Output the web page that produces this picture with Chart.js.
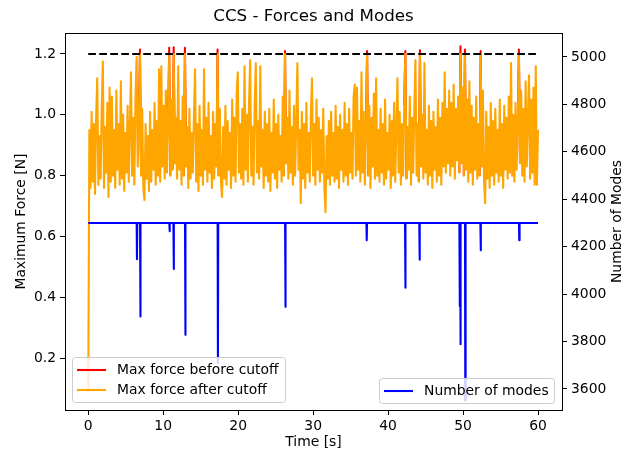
<!DOCTYPE html>
<html>
<head>
<meta charset="utf-8">
<script src="https://cdn.jsdelivr.net/npm/chart.js@4/dist/chart.umd.min.js"></script>
<style>
  html, body { margin: 0; padding: 0; background: #fff; }
  canvas { display: block; }
</style>
</head>
<body>
<canvas id="ccs-chart" width="624" height="452"></canvas>
<script>
// sampling step of the force record [s]
const dt = 0.15;

// max force after cutoff [N], one value per dt from t = 0 to 60 s
const forceAfter = [
  0.09, 0.95, 0.76, 1.01, 0.78, 0.97, 0.74, 0.99, 1.12, 0.77, 0.93, 0.79, 1.02, 1.175, 0.76, 0.96, 0.81, 1.04, 0.73, 1.09,
  0.78, 1.06, 0.80, 0.95, 0.76, 1.08, 0.82, 0.97, 0.77, 1.11, 0.79, 1.00, 0.75, 0.94, 0.81, 1.03, 0.78, 0.96, 1.14, 0.80,
  0.99, 0.77, 1.05, 1.19, 0.83, 0.96, 1.20, 0.80, 1.02, 0.76, 0.72, 0.97, 0.79, 0.93, 0.75, 1.01, 0.78, 0.95, 0.82, 1.04,
  0.77, 0.98, 0.80, 1.15, 0.78, 1.16, 0.83, 1.03, 0.79, 1.08, 0.81, 0.97, 1.20, 0.80, 1.05, 0.82, 1.20, 0.84, 0.99, 0.79,
  1.16, 0.82, 0.98, 0.77, 1.06, 0.80, 1.20, 0.83, 0.96, 0.76, 1.02, 0.79, 0.94, 0.81, 1.00, 1.15, 0.78, 0.97, 0.75, 1.03,
  0.80, 0.95, 0.77, 1.15, 0.82, 0.99, 0.78, 1.04, 0.81, 0.93, 0.76, 1.01, 0.79, 0.97, 0.83, 1.20, 0.80, 1.02, 0.78, 0.73,
  0.96, 0.79, 1.03, 0.77, 0.98, 0.82, 0.94, 0.76, 1.05, 0.80, 0.99, 0.78, 1.07, 1.14, 0.81, 0.97, 0.79, 1.02, 0.77, 1.16,
  0.82, 1.00, 0.78, 1.04, 1.18, 0.80, 0.96, 0.77, 1.03, 1.17, 0.81, 0.98, 0.79, 1.16, 0.83, 0.95, 0.76, 1.01, 0.80, 0.97,
  0.78, 1.02, 0.75, 0.94, 0.81, 1.05, 0.79, 0.97, 0.76, 1.00, 0.82, 0.93, 0.78, 1.06, 0.80, 1.20, 0.84, 0.99, 0.79, 1.08,
  0.81, 0.96, 0.77, 1.03, 0.80, 0.98, 1.17, 0.82, 0.95, 0.71, 1.01, 0.79, 0.97, 0.76, 1.04, 0.81, 0.94, 0.78, 1.00, 1.12,
  0.80, 0.97, 0.77, 1.05, 0.82, 0.99, 0.78, 0.95, 0.81, 1.02, 0.76, 0.68, 0.93, 0.79, 0.98, 0.77, 1.01, 0.80, 0.94, 0.78,
  1.03, 0.79, 0.96, 0.76, 1.00, 0.82, 0.95, 0.78, 1.04, 0.80, 0.97, 0.77, 1.02, 0.81, 0.94, 0.79, 1.06, 1.10, 0.80, 1.09,
  0.82, 0.98, 0.78, 1.14, 0.81, 1.01, 0.77, 0.96, 1.20, 0.80, 1.03, 0.76, 0.99, 0.83, 1.07, 0.79, 1.12, 0.80, 0.95, 0.78,
  1.02, 0.81, 0.97, 0.77, 1.05, 0.79, 0.94, 0.82, 1.00, 0.76, 0.98, 0.80, 1.04, 0.78, 0.96, 1.12, 0.81, 1.01, 0.77, 0.97,
  0.80, 1.03, 1.20, 0.79, 0.96, 0.82, 1.06, 0.77, 0.99, 0.81, 1.02, 1.18, 0.80, 0.97, 0.78, 1.20, 0.83, 1.00, 0.79, 1.17,
  0.81, 0.95, 0.77, 1.03, 0.80, 0.98, 0.76, 1.01, 0.82, 0.96, 0.78, 1.05, 0.80, 0.99, 0.77, 1.04, 0.83, 1.14, 0.81, 1.02,
  0.84, 1.08, 0.80, 1.04, 0.83, 1.10, 0.79, 1.02, 0.85, 1.06, 0.81, 1.20, 0.84, 1.09, 0.80, 1.20, 0.82, 1.05, 0.78, 1.11,
  0.81, 1.03, 0.77, 0.99, 0.82, 1.06, 0.79, 0.97, 0.80, 1.20, 0.83, 1.08, 0.78, 0.71, 1.01, 0.79, 0.96, 0.76, 1.04, 0.80,
  0.98, 0.77, 1.02, 0.81, 0.95, 0.78, 1.05, 0.80, 0.97, 0.76, 1.03, 0.82, 0.99, 0.79, 1.06, 0.81, 1.17, 0.80, 1.00, 0.78,
  1.04, 0.82, 0.97, 1.20, 0.84, 1.08, 0.80, 1.02, 0.78, 1.11, 0.83, 0.99, 1.13, 0.79, 1.05, 0.81, 1.09, 0.77, 1.16, 0.77,
  0.95
];

// peaks that were above the cutoff before it was applied
const peakTimes  = [6.9, 10.8, 11.4, 12.9, 17.25, 26.25, 37.2, 42.3, 44.25, 49.65, 50.25, 52.35, 57.45];
const peakForces = [1.215, 1.22, 1.222, 1.22, 1.215, 1.21, 1.21, 1.21, 1.212, 1.225, 1.215, 1.21, 1.215];

const cutoff = 1.2;

// number of modes: constant level with short drops
const modesBase = 4300;
const dipTimes = [6.5, 6.95, 10.85, 11.4, 12.95, 17.3, 26.3, 37.15, 42.3, 44.2, 49.55, 49.65, 50.3, 52.35, 57.5];
const dipModes = [4147, 3905, 4265, 4106, 3828, 3708, 3946, 4227, 4027, 4145, 3949, 3788, 3552, 4185, 4227];

const timeTicks = [0, 10, 20, 30, 40, 50, 60];
const forceTicks = [0.2, 0.4, 0.6, 0.8, 1.0, 1.2];
const modeTicks = [3600, 3800, 4000, 4200, 4400, 4600, 4800, 5000];

const FONT = "'DejaVu Sans', 'Liberation Sans', sans-serif";
const LW = 2.08; // 1.5 pt at 100 dpi

const time = forceAfter.map((_, i) => +(i * dt).toFixed(2));

// before-cutoff curve: only the parts around the clipped peaks differ, the rest is hidden under the orange one
const forceBefore = forceAfter.map(() => null);
peakTimes.forEach((t, k) => {
  const i = Math.round(t / dt);
  forceBefore[i - 1] = forceAfter[i - 1];
  forceBefore[i] = peakForces[k];
  forceBefore[i + 1] = forceAfter[i + 1];
});

const modesData = [{ x: 0, y: modesBase }];
dipTimes.forEach((t, k) => {
  modesData.push({ x: t - 0.04, y: modesBase }, { x: t, y: dipModes[k] }, { x: t + 0.04, y: modesBase });
});
modesData.push({ x: 60, y: modesBase });

const xy = (arr) => arr.map((v, i) => ({ x: time[i], y: v }));
const fixTicks = (vals) => (scale) => { scale.ticks = vals.map(v => ({ value: v })); };

function drawLegend(ctx, x, y, w, h, items) {
  ctx.save();
  ctx.beginPath();
  ctx.roundRect(x + 0.5, y + 0.5, w, h, 3);
  ctx.fillStyle = 'rgba(255,255,255,0.8)';
  ctx.fill();
  ctx.strokeStyle = '#cccccc';
  ctx.lineWidth = 1;
  ctx.stroke();
  ctx.font = '13.9px ' + FONT;
  ctx.textBaseline = 'middle';
  items.forEach((it, k) => {
    const ly = y + 13 + k * 20;
    ctx.beginPath();
    ctx.moveTo(x + 5, ly);
    ctx.lineTo(x + 34, ly);
    ctx.strokeStyle = it.color;
    ctx.lineWidth = LW;
    ctx.stroke();
    ctx.fillStyle = '#000';
    ctx.fillText(it.label, x + 45, ly);
  });
  ctx.restore();
}

const decorations = {
  id: 'decorations',
  afterDraw(chart) {
    const { ctx, chartArea: a } = chart;
    ctx.save();
    // frame
    ctx.strokeStyle = '#000';
    ctx.lineWidth = 1;
    ctx.strokeRect(a.left + 0.5, a.top + 0.5, a.right - a.left, a.bottom - a.top);
    // title and axis labels
    ctx.fillStyle = '#000';
    ctx.textAlign = 'center';
    ctx.textBaseline = 'middle';
    ctx.font = '16.7px ' + FONT;
    ctx.fillText('CCS - Forces and Modes', (a.left + a.right) / 2, 17);
    ctx.font = '13.9px ' + FONT;
    ctx.fillText('Time [s]', (a.left + a.right) / 2, 442);
    const midY = (a.top + a.bottom) / 2;
    ctx.save();
    ctx.translate(21, midY);
    ctx.rotate(-Math.PI / 2);
    ctx.fillText('Maximum Force [N]', 0, 0);
    ctx.restore();
    ctx.save();
    ctx.translate(617, midY);
    ctx.rotate(-Math.PI / 2);
    ctx.fillText('Number of Modes', 0, 0);
    ctx.restore();
    ctx.restore();

    drawLegend(ctx, 72, 357, 213, 45, [
      { label: 'Max force before cutoff', color: '#ff0000' },
      { label: 'Max force after cutoff', color: '#ffa500' }
    ]);
    drawLegend(ctx, 379, 378, 175, 25, [
      { label: 'Number of modes', color: '#0000ff' }
    ]);
  }
};

const axisStyle = {
  grid: { drawOnChartArea: false, drawTicks: true, tickLength: 5, color: '#000', lineWidth: 1 },
  border: { display: true, color: '#000', width: 1 },
  ticks: { color: '#000', font: { family: FONT, size: 13.9 }, padding: 4, maxRotation: 0 }
};

new Chart(document.getElementById('ccs-chart'), {
  type: 'line',
  data: {
    datasets: [
      {
        label: 'Number of modes',
        data: modesData,
        yAxisID: 'y2',
        borderColor: '#0000ff',
        borderWidth: LW,
        order: 0
      },
      {
        label: 'Cutoff',
        data: [{ x: 0, y: cutoff }, { x: 60, y: cutoff }],
        yAxisID: 'y',
        borderColor: '#000',
        borderWidth: LW,
        borderDash: [7.7, 3.3],
        order: 1
      },
      {
        label: 'Max force after cutoff',
        data: xy(forceAfter),
        yAxisID: 'y',
        borderColor: '#ffa500',
        borderWidth: LW,
        order: 2
      },
      {
        label: 'Max force before cutoff',
        data: xy(forceBefore),
        yAxisID: 'y',
        borderColor: '#ff0000',
        borderWidth: LW,
        spanGaps: false,
        order: 3
      }
    ]
  },
  options: {
    responsive: false,
    animation: false,
    layout: { padding: { top: 33, left: 0, right: 0, bottom: 0 } },
    elements: { point: { radius: 0 }, line: { tension: 0, borderJoinStyle: 'round' } },
    plugins: {
      legend: { display: false },
      title: { display: false },
      tooltip: { enabled: false }
    },
    scales: {
      x: {
        type: 'linear',
        min: -3.1,
        max: 63.2,
        afterBuildTicks: fixTicks(timeTicks),
        afterFit: (s) => { s.height = 42; },
        ...axisStyle,
        ticks: { ...axisStyle.ticks, padding: 3 }
      },
      y: {
        position: 'left',
        min: 0.03,
        max: 1.269,
        afterBuildTicks: fixTicks(forceTicks),
        afterFit: (s) => { s.width = 65; },
        ...axisStyle,
        ticks: { ...axisStyle.ticks, callback: (v) => v.toFixed(1) }
      },
      y2: {
        position: 'right',
        min: 3511,
        max: 5101,
        afterBuildTicks: fixTicks(modeTicks),
        afterFit: (s) => { s.width = 62; },
        ...axisStyle,
        ticks: { ...axisStyle.ticks, callback: (v) => String(v) }
      }
    }
  },
  plugins: [decorations]
});
</script>
</body>
</html>
